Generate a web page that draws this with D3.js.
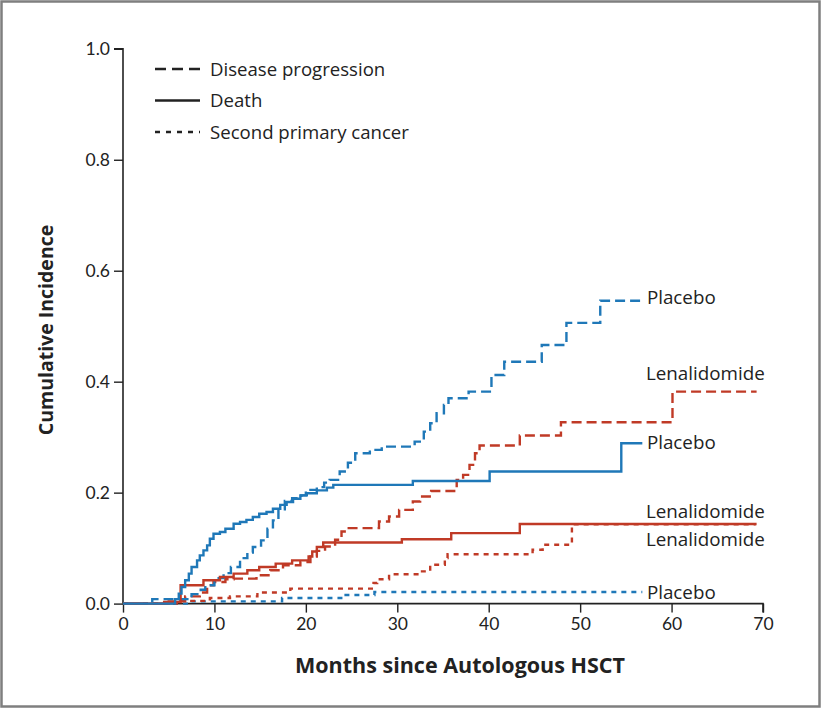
<!DOCTYPE html>
<html>
<head>
<meta charset="utf-8">
<script src="https://cdn.jsdelivr.net/npm/d3@7"></script>
<style>
  html, body { margin: 0; padding: 0; background: #fff; }
  svg { display: block; font-family: "Open Sans", Lato, sans-serif; }
  .tick text { fill: #222; }
</style>
</head>
<body>
<div id="chart"></div>
<script>
// Cumulative incidence — lenalidomide vs placebo after autologous HSCT

// ---- Data (month, cumulative incidence) ----
const placeboProgression = [
  [0,0],[3.2,0.008],[7.5,0.017],[8.5,0.025],[9,0.033],[10,0.046],[11,0.055],[11.8,0.066],
  [12.8,0.082],[13.6,0.092],[14.2,0.102],[15.1,0.114],[15.8,0.135],[16.4,0.15],[17,0.17],
  [17.7,0.185],[18.5,0.19],[19.5,0.195],[20,0.2],[20.5,0.205],[21.2,0.21],[22,0.218],
  [22.6,0.223],[23.7,0.238],[24.6,0.254],[25.4,0.271],[27,0.277],[28.3,0.283],[31.9,0.292],
  [32.9,0.31],[33.6,0.325],[34.3,0.343],[35.1,0.358],[35.6,0.37],[37.8,0.382],[40.3,0.412],
  [41.7,0.436],[45.8,0.466],[48.5,0.506],[52.2,0.546],[56.8,0.546]
];
const placeboDeath = [
  [0,0],[5.7,0.008],[6.1,0.018],[6.4,0.03],[6.8,0.042],[7.2,0.054],[7.5,0.066],[8.1,0.078],
  [8.4,0.087],[8.8,0.096],[9.2,0.105],[9.5,0.117],[9.9,0.126],[10.6,0.129],[11.2,0.135],
  [12.1,0.144],[12.8,0.147],[13.5,0.151],[14.2,0.156],[14.9,0.162],[15.7,0.165],[16.4,0.171],
  [17.2,0.178],[17.9,0.183],[18.6,0.189],[19.4,0.195],[20.1,0.199],[21.2,0.204],[22.3,0.209],
  [23,0.214],[31.7,0.221],[40.1,0.238],[54.5,0.289],[56.8,0.289]
];
const placeboSecondCancer = [
  [0,0],[7.5,0.004],[17.4,0.01],[24.1,0.0155],[27.5,0.021],[56.8,0.021]
];
const lenaProgression = [
  [0,0],[5,0.004],[6.8,0.013],[8.4,0.02],[9.2,0.033],[9.9,0.039],[11.2,0.044],[12.1,0.045],
  [14.6,0.051],[16.1,0.06],[17.5,0.069],[19.4,0.075],[20.5,0.085],[21.2,0.095],[22.1,0.103],
  [23.2,0.115],[23.9,0.13],[24.4,0.136],[28,0.148],[29.1,0.157],[30.2,0.169],[31.7,0.184],
  [32.5,0.193],[33.7,0.203],[36.5,0.223],[37.2,0.232],[37.9,0.25],[38.5,0.271],[39,0.285],
  [43.4,0.303],[47.9,0.327],[60.1,0.382],[69.3,0.382]
];
const lenaDeath = [
  [0,0],[4.5,0.003],[6.3,0.033],[8.8,0.042],[10.6,0.048],[12.1,0.054],[13.6,0.06],[14.9,0.066],
  [16.7,0.072],[18.5,0.078],[20.3,0.085],[20.7,0.094],[21.2,0.102],[21.9,0.11],[30.5,0.116],
  [35.9,0.127],[43.4,0.1435],[69.3,0.1435]
];
const lenaSecondCancer = [
  [0,0],[6.3,0.005],[9.5,0.01],[11.7,0.013],[14.7,0.02],[18.3,0.027],[27.4,0.037],[27.8,0.044],
  [29.1,0.053],[32.4,0.058],[33.6,0.07],[35.2,0.082],[35.5,0.089],[44.8,0.097],[45.9,0.106],
  [49.1,0.143],[69.2,0.143]
];

const xTicks = [0, 10, 20, 30, 40, 50, 60, 70];
const yTicks = [0, 0.2, 0.4, 0.6, 0.8, 1.0];
const legendLabels = ["Disease progression", "Death", "Second primary cancer"];
const endLabels = [
  { text: "Placebo",      at: [57.3, 0.551] },
  { text: "Lenalidomide", at: [57.2, 0.414] },
  { text: "Placebo",      at: [57.3, 0.291] },
  { text: "Lenalidomide", at: [57.2, 0.167] },
  { text: "Lenalidomide", at: [57.2, 0.115] },
  { text: "Placebo",      at: [57.3, 0.021] }
];

const BLUE = "#1f78b8", RED = "#c03a26";
const DASH = { progression: "10,5", death: null, second: "5,5" };

const series = [
  { data: placeboSecondCancer, color: BLUE, dash: DASH.second },
  { data: lenaSecondCancer,    color: RED,  dash: DASH.second },
  { data: lenaProgression,     color: RED,  dash: DASH.progression },
  { data: placeboProgression,  color: BLUE, dash: DASH.progression },
  { data: lenaDeath,           color: RED,  dash: DASH.death },
  { data: placeboDeath,        color: BLUE, dash: DASH.death }
];

// ---- Layout ----
const W = 822, H = 709;
const svg = d3.select("#chart").append("svg").attr("width", W).attr("height", H);

// frame
svg.append("rect").attr("x", 1.5).attr("y", 1.5).attr("width", W - 4).attr("height", H - 4)
  .attr("fill", "#fff").attr("stroke", "#7f7f7f").attr("stroke-width", 2.5);

const x = d3.scaleLinear().domain([0, 70]).range([123, 763]);
const y = d3.scaleLinear().domain([0, 1]).range([603.6, 48.8]);

// axes
const yAxis = svg.append("g").attr("transform", "translate(123,0)")
  .call(d3.axisLeft(y).tickValues(yTicks).tickFormat(d3.format(".1f")).tickSize(9).tickPadding(4));
const xAxis = svg.append("g").attr("transform", "translate(0,603.6)")
  .call(d3.axisBottom(x).tickValues(xTicks).tickFormat(d3.format("d")).tickSize(9).tickPadding(5));
[xAxis, yAxis].forEach(a => {
  a.select(".domain").attr("stroke", "#222").attr("stroke-width", 1.6);
  a.selectAll(".tick line").attr("stroke", "#222").attr("stroke-width", 1.4);
  a.selectAll(".tick text").style("font-size", "17.5px").style("font-family", "Lato, sans-serif");
});
yAxis.select(".domain").attr("d", "M-9,48.8H0V603.6");
xAxis.select(".domain").attr("d", "M123,0H763V9");

// curves
const line = d3.line().x(d => x(d[0])).y(d => y(d[1])).curve(d3.curveStepAfter);
svg.append("g").selectAll("path").data(series).enter().append("path")
  .attr("d", d => line(d.data))
  .attr("fill", "none")
  .attr("stroke", d => d.color)
  .attr("stroke-width", 2.4)
  .attr("stroke-dasharray", d => d.dash);

// end labels
svg.append("g").selectAll("text").data(endLabels).enter().append("text")
  .attr("x", d => x(d.at[0]))
  .attr("y", d => y(d.at[1]))
  .attr("dy", "0.35em")
  .style("font-size", "18.8px")
  .attr("fill", "#222")
  .text(d => d.text);

// legend
const lg = svg.append("g").attr("transform", "translate(155,69)");
legendLabels.forEach((t, i) => {
  const row = lg.append("g").attr("transform", `translate(0,${i * 31.5})`);
  row.append("line").attr("x1", 0).attr("x2", 45).attr("y1", 0).attr("y2", 0)
    .attr("stroke", "#222").attr("stroke-width", 2.4)
    .attr("stroke-dasharray", i === 0 ? "11,6" : i === 2 ? "5,6" : null);
  row.append("text").attr("x", 55).attr("dy", "0.35em").style("font-size", "18.6px")
    .attr("fill", "#222").text(t);
});

// axis titles
svg.append("text").attr("x", 460).attr("y", 665).attr("dy", "0.35em")
  .attr("text-anchor", "middle").style("font-size", "21.5px").style("font-weight", "bold")
  .attr("fill", "#222").text("Months since Autologous HSCT");
svg.append("text").attr("transform", "translate(46,330) rotate(-90)").attr("dy", "0.35em")
  .attr("text-anchor", "middle").style("font-size", "19.5px").style("font-weight", "bold")
  .attr("fill", "#222").text("Cumulative Incidence");
</script>
</body>
</html>
